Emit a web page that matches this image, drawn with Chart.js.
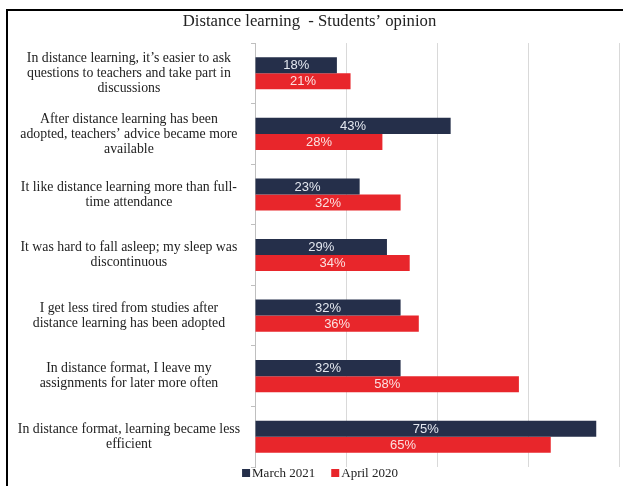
<!DOCTYPE html>
<html>
<head>
<meta charset="utf-8">
<script src="https://cdn.jsdelivr.net/npm/chart.js@4"></script>
<style>
  html, body { margin: 0; padding: 0; background: #fff; }
  #wrap { position: relative; width: 623px; height: 486px; }
  canvas { display: block; }
</style>
</head>
<body>
<div id="wrap"><canvas id="c" width="623" height="486"></canvas></div>
<script>
const titleText = "Distance learning  - Students\u2019 opinion";
const categories = [
  ["In distance learning, it\u2019s easier to ask", "questions to teachers and take part in", "discussions"],
  ["After distance learning has been", "adopted, teachers\u2019 advice became more", "available"],
  ["It like distance learning more than full-", "time attendance"],
  ["It was hard to fall asleep; my sleep was", "discontinuous"],
  ["I get less tired from studies after", "distance learning has been adopted"],
  ["In distance format, I leave my", "assignments for later more often"],
  ["In distance format, learning became less", "efficient"]
];
const seriesNames = ["March 2021", "April 2020"];
const march2021 = [18, 43, 23, 29, 32, 32, 75];
const april2020 = [21, 28, 32, 34, 36, 58, 65];
const xTicks = [0, 20, 40, 60, 80];

const darkColor = "#252F4A";
const redColor = "#E8262B";

const framePlugin = {
  id: "frame",
  beforeDraw(chart) {
    const ctx = chart.ctx;
    ctx.save();
    ctx.fillStyle = "#fff";
    ctx.fillRect(0, 0, chart.width, chart.height);
    ctx.strokeStyle = "#000";
    ctx.lineWidth = 2;
    ctx.beginPath();
    ctx.moveTo(7, chart.height + 2);
    ctx.lineTo(7, 10);
    ctx.lineTo(chart.width + 2, 10);
    ctx.stroke();
    ctx.restore();
  }
};

const valueLabels = {
  id: "valueLabels",
  afterDatasetsDraw(chart) {
    const ctx = chart.ctx;
    ctx.save();
    ctx.font = "13px 'Liberation Sans', Arial, sans-serif";
    ctx.textAlign = "center";
    ctx.textBaseline = "middle";
    chart.data.datasets.forEach((ds, di) => {
      const meta = chart.getDatasetMeta(di);
      ctx.fillStyle = di === 0 ? "#e4e8f0" : "#fbe0e0";
      meta.data.forEach((bar, i) => {
        const x = (bar.base + bar.x) / 2;
        ctx.fillText(ds.data[i] + "%", x, bar.y + 0.5);
      });
    });
    ctx.restore();
  }
};

const customLegend = {
  id: "customLegend",
  afterDraw(chart) {
    const ctx = chart.ctx;
    ctx.save();
    ctx.font = "13px 'Liberation Serif', 'Times New Roman', serif";
    ctx.textBaseline = "middle";
    ctx.textAlign = "left";
    const box = 8, gapBox = 2, gapItem = 16;
    const items = chart.data.datasets.map(ds => ({ text: ds.label, color: ds.backgroundColor, w: ctx.measureText(ds.label).width }));
    let total = 0;
    items.forEach((it, i) => { total += box + gapBox + it.w + (i < items.length - 1 ? gapItem : 0); });
    let x = 320 - total / 2;
    const y = 473;
    items.forEach(it => {
      ctx.fillStyle = it.color;
      ctx.fillRect(x, y - box / 2, box, box);
      x += box + gapBox;
      ctx.fillStyle = "#222";
      ctx.fillText(it.text, x, y + 1);
      x += it.w + gapItem;
    });
    ctx.restore();
  }
};

new Chart(document.getElementById("c"), {
  type: "bar",
  data: {
    labels: categories,
    datasets: [
      { label: seriesNames[0], data: march2021, backgroundColor: darkColor },
      { label: seriesNames[1], data: april2020, backgroundColor: redColor }
    ]
  },
  options: {
    indexAxis: "y",
    responsive: false,
    animation: false,
    devicePixelRatio: 1,
    layout: { padding: { top: 12, right: 4, bottom: 19, left: 0 } },
    datasets: { bar: { categoryPercentage: 0.53, barPercentage: 1 } },
    plugins: {
      legend: { display: false },
      tooltip: { enabled: false },
      title: {
        display: true,
        text: titleText,
        color: "#222",
        font: { family: "'Liberation Serif', 'Times New Roman', serif", size: 16.7, weight: "normal" },
        padding: { top: 0, bottom: 11 }
      }
    },
    scales: {
      x: {
        min: 0,
        max: 80,
        afterBuildTicks(scale) { scale.ticks = xTicks.map(v => ({ value: v })); },
        ticks: { display: false },
        grid: { color: "#d9d9d9", drawTicks: false },
        border: { display: false },
        afterFit(scale) { scale.height = 0; scale.paddingLeft = 0; scale.paddingRight = 0; }
      },
      y: {
        offset: true,
        grid: { offset: true, drawOnChartArea: false, tickLength: 4, color: "#bfbfbf" },
        border: { color: "#bfbfbf" },
        ticks: {
          crossAlign: "center",
          padding: 11,
          color: "#222",
          font: { family: "'Liberation Serif', 'Times New Roman', serif", size: 13.8, lineHeight: "15px" }
        },
        afterFit(scale) { scale.width = 255; scale.paddingTop = 0; scale.paddingBottom = 0; }
      }
    }
  },
  plugins: [framePlugin, valueLabels, customLegend]
});
</script>
</body>
</html>
